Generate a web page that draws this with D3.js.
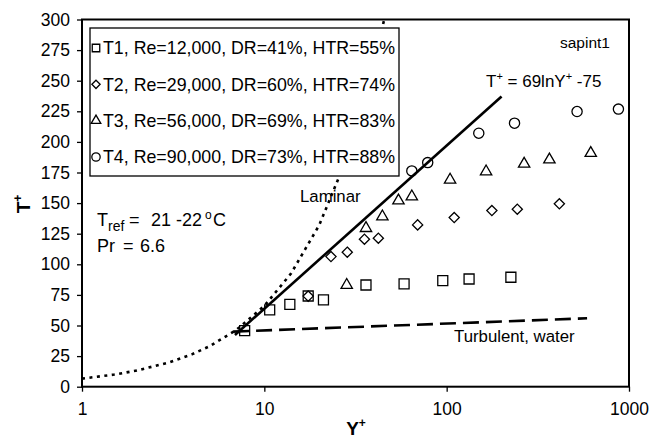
<!DOCTYPE html>
<html>
<head>
<meta charset="utf-8">
<script src="https://cdn.jsdelivr.net/npm/d3@7"></script>
<style>
  html, body { margin: 0; padding: 0; background: #fff; }
  svg { display: block; }
  text { font-family: "Liberation Sans", Arial, sans-serif; fill: #000; white-space: pre; }
</style>
</head>
<body>
<svg id="chart" width="649" height="440"></svg>
<script>
// Measured temperature profiles, four runs
const t1Y = [7.8, 10.7, 13.8, 17.4, 21.1, 36.1, 58.4, 95.2, 132.7, 225];
const t1T = [45.8, 62.7, 67.3, 74.1, 70.9, 83.1, 84.0, 86.7, 88.0, 89.4];

const t2Y = [17.4, 23.2, 28.5, 35.4, 42.2, 69.3, 110, 177, 244, 415];
const t2T = [74.0, 106.3, 109.9, 120.5, 121.3, 132.2, 138.2, 143.9, 145.0, 149.4];

const t3Y = [28.3, 36.1, 44.4, 54.4, 64.4, 104.4, 164.5, 266, 366, 617];
const t3T = [83.0, 129.5, 139.0, 152.0, 155.3, 169.0, 175.8, 182.0, 185.5, 190.8];

const t4Y = [64.4, 78.7, 150, 235.6, 519, 875];
const t4T = [176.3, 183.1, 207.1, 215.3, 224.8, 226.8];

const seriesLabels = [
  "T1, Re=12,000, DR=41%, HTR=55%",
  "T2, Re=29,000, DR=60%, HTR=74%",
  "T3, Re=56,000, DR=69%, HTR=83%",
  "T4, Re=90,000, DR=73%, HTR=88%"
];

// Reference curves
const laminarY = [1, 1.5, 2, 3, 4, 5, 7, 10, 14, 20, 28, 36, 45.5];
const laminarT = [6.6, 9.9, 13.2, 19.8, 26.4, 33, 46.2, 66, 92.4, 132, 184.8, 237.6, 300.3];

const logLawY = [6.9, 200];
const logLawT = [42.3, 237.1];

const turbY = [6.74, 589];
const turbT = [45.0, 55.9];

// Axis ticks
const xTicks = [1, 10, 100, 1000];
const yTicks = [0, 25, 50, 75, 100, 125, 150, 175, 200, 225, 250, 275, 300];

const svg = d3.select("#chart");
const plotLeft = 82, plotRight = 629, plotTop = 19.5, plotBottom = 386.7;

const x = d3.scaleLog().domain([1, 1000]).range([plotLeft, plotRight]);
const y = d3.scaleLinear().domain([0, 300]).range([plotBottom, plotTop]);

const clipId = "plotClip";
svg.append("defs").append("clipPath").attr("id", clipId)
  .append("rect").attr("x", plotLeft).attr("y", plotTop - 2)
  .attr("width", plotRight - plotLeft).attr("height", plotBottom - plotTop + 2);

const plot = svg.append("g").attr("clip-path", `url(#${clipId})`);

const line = d3.line().x(d => x(d[0])).y(d => y(d[1]));

// Laminar sublayer (dotted)
plot.append("path")
  .datum(d3.zip(laminarY, laminarT))
  .attr("d", line)
  .attr("fill", "none").attr("stroke", "#000")
  .attr("stroke-width", 2.6).attr("stroke-dasharray", "3,4.5");

// Turbulent water log law (dashed)
plot.append("path")
  .datum(d3.zip(turbY, turbT))
  .attr("d", line)
  .attr("fill", "none").attr("stroke", "#000")
  .attr("stroke-width", 2.6).attr("stroke-dasharray", "16,7");

// Fitted log law (solid)
plot.append("path")
  .datum(d3.zip(logLawY, logLawT))
  .attr("d", line)
  .attr("fill", "none").attr("stroke", "#000")
  .attr("stroke-width", 2.6);

// Marker shapes
const diamondPath = size => {
  const h = Math.sqrt(size / 2);
  return `M0,${-h}L${h},0L0,${h}L${-h},0Z`;
};
const markers = [
  { xs: t1Y, ts: t1T, path: d3.symbol(d3.symbolSquare, 100)() },
  { xs: t2Y, ts: t2T, path: diamondPath(52) },
  { xs: t3Y, ts: t3T, path: d3.symbol(d3.symbolTriangle, 56)() },
  { xs: t4Y, ts: t4T, path: d3.symbol(d3.symbolCircle, 82)() }
];

markers.forEach(m => {
  plot.append("g").selectAll("path")
    .data(d3.zip(m.xs, m.ts))
    .join("path")
    .attr("transform", d => `translate(${x(d[0])},${y(d[1])})`)
    .attr("d", m.path)
    .attr("fill", "none").attr("stroke", "#000").attr("stroke-width", 1.3);
});

// Axes
const yAxis = d3.axisLeft(y).tickValues(yTicks).tickSize(5).tickPadding(7);
const gy = svg.append("g").attr("transform", `translate(${plotLeft},0)`).call(yAxis);
gy.select(".domain").remove();
gy.selectAll("line").attr("stroke-width", 1.3);
gy.selectAll("text").style("font-size", "17.5px");

const xAxis = d3.axisBottom(x).tickValues(xTicks).tickFormat(d3.format("d")).tickSize(5).tickPadding(11);
const gx = svg.append("g").attr("transform", `translate(0,${plotBottom})`).call(xAxis);
gx.select(".domain").remove();
gx.selectAll("line").attr("stroke-width", 1.3);
gx.selectAll("text").style("font-size", "17.5px");

// Plot frame
svg.append("rect")
  .attr("x", plotLeft).attr("y", plotTop)
  .attr("width", plotRight - plotLeft).attr("height", plotBottom - plotTop)
  .attr("fill", "none").attr("stroke", "#000").attr("stroke-width", 2);

// Axis titles
const yTitle = svg.append("text")
  .attr("transform", `translate(30,204) rotate(-90)`)
  .attr("text-anchor", "middle")
  .style("font-size", "19px").style("font-weight", "bold");
yTitle.append("tspan").text("T");
yTitle.append("tspan").attr("dy", -8).style("font-size", "12px").text("+");

const xTitle = svg.append("text")
  .attr("x", 356).attr("y", 435)
  .attr("text-anchor", "middle")
  .style("font-size", "19px").style("font-weight", "bold");
xTitle.append("tspan").text("Y");
xTitle.append("tspan").attr("dy", -8).style("font-size", "12px").text("+");

// Legend
const legend = svg.append("g");
legend.append("rect")
  .attr("x", 90).attr("y", 28).attr("width", 309).attr("height", 148)
  .attr("fill", "#fff").attr("stroke", "#000").attr("stroke-width", 1.3);

const legendShapes = [
  d3.symbol(d3.symbolSquare, 56)(),
  diamondPath(34),
  d3.symbol(d3.symbolTriangle, 40)(),
  d3.symbol(d3.symbolCircle, 55)()
];
const rowY = d3.scalePoint().domain(d3.range(seriesLabels.length)).range([48, 157]);
seriesLabels.forEach((label, i) => {
  legend.append("path")
    .attr("transform", `translate(96,${rowY(i)})`)
    .attr("d", legendShapes[i])
    .attr("fill", "none").attr("stroke", "#000").attr("stroke-width", 1.3);
  legend.append("text")
    .attr("x", 103).attr("y", rowY(i) + 6.3)
    .style("font-size", "17.8px")
    .text(label);
});

// Annotations
svg.append("text").attr("x", 560).attr("y", 48)
  .style("font-size", "15.5px").text("sapint1");

const eq = svg.append("text").attr("x", 486).attr("y", 87).style("font-size", "17px");
eq.append("tspan").text("T");
eq.append("tspan").attr("dy", -7).style("font-size", "11px").text("+");
eq.append("tspan").attr("dy", 7).text(" = 69lnY");
eq.append("tspan").attr("dy", -7).style("font-size", "11px").text("+");
eq.append("tspan").attr("dy", 7).text(" -75");

svg.append("text").attr("x", 300).attr("y", 202)
  .style("font-size", "16.8px").text("Laminar");

svg.append("text").attr("x", 454).attr("y", 342)
  .style("font-size", "16.8px").text("Turbulent, water");

const tref = svg.append("text").attr("y", 226).style("font-size", "18px");
tref.append("tspan").attr("x", 97).text("T");
tref.append("tspan").attr("x", 108).attr("dy", 5).style("font-size", "14px").text("ref");
tref.append("tspan").attr("x", 129).attr("dy", -5).text("=");
tref.append("tspan").attr("x", 151).text("21 -22");
tref.append("tspan").attr("x", 205).attr("dy", -7).style("font-size", "12px").text("o");
tref.append("tspan").attr("x", 213).attr("dy", 7).text("C");

svg.append("text").attr("y", 252).style("font-size", "18px")
  .call(t => {
    t.append("tspan").attr("x", 97).text("Pr");
    t.append("tspan").attr("x", 123).text("=");
    t.append("tspan").attr("x", 140).text("6.6");
  });
</script>
</body>
</html>
